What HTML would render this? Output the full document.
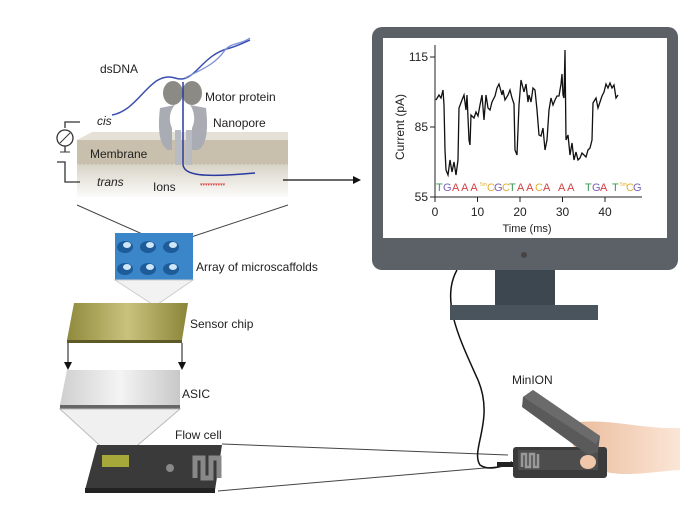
<!DOCTYPE html>
<html><head><meta charset="utf-8"><style>
body{margin:0;background:#fff}
svg{display:block}
text{font-family:"Liberation Sans",sans-serif}
</style></head><body>
<svg width="680" height="505" viewBox="0 0 680 505" xmlns="http://www.w3.org/2000/svg" fill="#222">
<defs>
<linearGradient id="trans" x1="0" y1="0" x2="0" y2="1"><stop offset="0" stop-color="#d9d4c8"/><stop offset="1" stop-color="#fbfbf9"/></linearGradient>
<linearGradient id="chip" x1="0" y1="0" x2="1" y2="0"><stop offset="0" stop-color="#8f8a3c"/><stop offset="0.5" stop-color="#c9c27e"/><stop offset="1" stop-color="#8a8538"/></linearGradient>
<linearGradient id="asic" x1="0" y1="0" x2="1" y2="0"><stop offset="0" stop-color="#cfcfcf"/><stop offset="0.5" stop-color="#f4f4f4"/><stop offset="1" stop-color="#c8c8c8"/></linearGradient>
<linearGradient id="hand" x1="0" y1="0" x2="1" y2="0"><stop offset="0" stop-color="#e9b898"/><stop offset="1" stop-color="#fbe6d6"/></linearGradient>
</defs>

<!-- membrane slab -->
<polygon points="77,140 92,132 288,132 288,140" fill="#e6e1d6"/>
<rect x="77" y="140" width="211" height="25" fill="#c8c0ac"/>
<line x1="77" y1="165" x2="288" y2="165" stroke="#eee" stroke-dasharray="2,2"/>
<rect x="77" y="165" width="211" height="32" fill="url(#trans)"/>
<!-- circuit -->
<path d="M80,122 H65 V128 M65,146 V152 M57,162 H65 V182 H80" stroke="#333" fill="none" stroke-width="1.3"/>
<circle cx="65" cy="138" r="8" fill="#fff" stroke="#333" stroke-width="1.3"/>
<line x1="60" y1="143" x2="70" y2="133" stroke="#333"/>
<line x1="60" y1="152" x2="70" y2="152" stroke="#333"/>
<!-- DNA -->
<path d="M112,115 C140,110 150,70 175,78 C195,85 200,55 230,48 C240,45 245,42 250,40" stroke="#3a4fb0" fill="none" stroke-width="1.5"/>
<path d="M185,78 C200,70 215,65 225,50 C232,42 240,45 250,38" stroke="#7d8fd8" fill="none" stroke-width="1.3"/>
<!-- nanopore -->
<path d="M160,108 C158,125 158,145 168,150 L172,150 L172,128 C168,120 170,110 175,105 Z" fill="#a9acb3"/>
<path d="M206,108 C208,125 208,145 198,150 L192,150 L192,128 C196,120 194,110 190,105 Z" fill="#a9acb3"/>
<rect x="175" y="130" width="6" height="35" fill="#b8bbc2"/>
<rect x="186" y="130" width="6" height="35" fill="#b8bbc2"/>
<ellipse cx="173" cy="93" rx="10" ry="12" fill="#8c8a85"/>
<ellipse cx="192" cy="93" rx="10" ry="12" fill="#8c8a85"/>
<path d="M183,82 V165 C185,175 200,178 255,173" stroke="#2a3aa0" fill="none" stroke-width="1.5"/>
<text x="200" y="186" font-size="5" fill="#d44">▾▾▾▾▾▾▾▾▾▾</text>
<!-- labels -->
<text x="100" y="73" font-size="12">dsDNA</text>
<text x="205" y="101" font-size="12">Motor protein</text>
<text x="97" y="125" font-size="12" font-style="italic">cis</text>
<text x="213" y="127" font-size="12">Nanopore</text>
<text x="90" y="158" font-size="12">Membrane</text>
<text x="97" y="186" font-size="12" font-style="italic">trans</text>
<text x="153" y="191" font-size="12">Ions</text>
<line x1="283" y1="180" x2="356" y2="180" stroke="#111" stroke-width="1.3"/>
<polygon points="361,180 353,176 353,184" fill="#111"/>
<!-- converge lines -->
<line x1="77" y1="205" x2="167" y2="245" stroke="#444"/>
<line x1="288" y1="205" x2="167" y2="245" stroke="#444"/>
<!-- array -->
<rect x="115" y="233" width="78" height="47" fill="#3b86c9"/>
<g fill="#1d5c99"><ellipse cx="125" cy="247" rx="8" ry="6"/><ellipse cx="148" cy="247" rx="8" ry="6"/><ellipse cx="171" cy="247" rx="8" ry="6"/><ellipse cx="125" cy="269" rx="8" ry="6"/><ellipse cx="148" cy="269" rx="8" ry="6"/><ellipse cx="171" cy="269" rx="8" ry="6"/></g>
<g fill="#cfe6f7"><ellipse cx="127" cy="245" rx="4" ry="3"/><ellipse cx="150" cy="245" rx="4" ry="3"/><ellipse cx="173" cy="245" rx="4" ry="3"/><ellipse cx="127" cy="267" rx="4" ry="3"/><ellipse cx="150" cy="267" rx="4" ry="3"/><ellipse cx="173" cy="267" rx="4" ry="3"/></g>
<text x="196" y="271" font-size="12">Array of microscaffolds</text>
<polygon points="115,280 193,280 155,306" fill="#f2f2f2" stroke="#ccc"/>
<!-- sensor chip -->
<polygon points="74,303 188,303 182,340 67,340" fill="url(#chip)"/>
<rect x="67" y="340" width="115" height="3" fill="#5d5a28"/>
<text x="190" y="328" font-size="12">Sensor chip</text>
<line x1="68" y1="343" x2="68" y2="365" stroke="#111"/><polygon points="68,370 64,362 72,362" fill="#111"/>
<line x1="182" y1="343" x2="182" y2="365" stroke="#111"/><polygon points="182,370 178,362 186,362" fill="#111"/>
<!-- ASIC -->
<polygon points="67,370 180,370 180,405 60,405" fill="url(#asic)"/>
<rect x="60" y="405" width="120" height="4" fill="#666"/>
<text x="182" y="398" font-size="12">ASIC</text>
<polygon points="60,409 180,409 118,462" fill="#f0f0f0" stroke="#bbb"/>
<!-- flow cell -->
<text x="175" y="439" font-size="12">Flow cell</text>
<polygon points="97,445 222,445 215,490 85,490" fill="#3a3a3a"/>
<rect x="85" y="488" width="130" height="5" fill="#222"/>
<rect x="102" y="455" width="27" height="12" fill="#a6a83a"/>
<path d="M195,478 V458 h8 v20 h8 v-20 h8 v20" stroke="#888" stroke-width="5" fill="none"/>
<circle cx="170" cy="468" r="4" fill="#888"/>
<line x1="222" y1="444" x2="508" y2="455" stroke="#444"/>
<line x1="218" y1="491" x2="508" y2="466" stroke="#444"/>
<!-- cable -->
<path d="M457,270 C440,300 460,340 478,380 C495,420 470,450 480,465 C490,472 505,465 512,462" stroke="#111" fill="none" stroke-width="1.5"/>
<!-- monitor -->
<rect x="495" y="268" width="60" height="40" fill="#3d4750"/>
<rect x="450" y="305" width="148" height="15" fill="#4a545c"/>
<rect x="372" y="27" width="306" height="243" rx="10" fill="#5c6168"/>
<rect x="383" y="38" width="284" height="200" fill="#fff"/>
<circle cx="524" cy="255" r="3" fill="#444"/>
<!-- plot -->
<line x1="435" y1="45" x2="435" y2="197" stroke="#222"/>
<line x1="435" y1="197" x2="642" y2="197" stroke="#222"/>
<g stroke="#222"><line x1="430" y1="57" x2="435" y2="57"/><line x1="430" y1="127" x2="435" y2="127"/><line x1="430" y1="197" x2="435" y2="197"/>
<line x1="435" y1="197" x2="435" y2="202"/><line x1="477.5" y1="197" x2="477.5" y2="202"/><line x1="520" y1="197" x2="520" y2="202"/><line x1="562.5" y1="197" x2="562.5" y2="202"/><line x1="605" y1="197" x2="605" y2="202"/></g>
<g font-size="12" text-anchor="end"><text x="428" y="61">115</text><text x="428" y="131">85</text><text x="428" y="201">55</text></g>
<g font-size="12" text-anchor="middle"><text x="435" y="216">0</text><text x="477.5" y="216">10</text><text x="520" y="216">20</text><text x="562.5" y="216">30</text><text x="605" y="216">40</text><text x="527" y="232" font-size="11">Time (ms)</text></g>
<text transform="translate(404,127) rotate(-90)" font-size="12" text-anchor="middle">Current (pA)</text>
<polyline fill="none" stroke="#111" stroke-width="1.3" points="436,100 439,95 441,98 443,90 444,105 445,150 446,170 448,175 450,160 452,172 454,162 456,175 458,160 459,108 462,100 464,95 466,110 467,95 469,140 470,145 471,115 474,118 476,112 478,116 480,105 482,95 484,120 486,95 488,108 490,110 492,102 495,96 497,88 499,84 502,95 503,90 505,100 508,95 510,90 512,98 514,104 515,150 517,155 519,105 521,80 524,92 526,84 528,102 529,95 531,102 533,88 535,90 537,110 539,135 541,136 543,128 545,150 547,140 549,110 551,98 553,105 555,100 557,96 559,96 561,84 562,74 563,95 564,98 565,50 566,140 568,135 570,155 572,143 574,160 576,152 578,160 580,158 582,153 584,155 586,157 588,150 590,148 592,140 593,103 596,98 598,108 600,102 602,96 604,92 606,84 608,88 610,83 612,88 614,85 616,98 618,95"/>
<g font-size="11"><text x="436" y="191" fill="#3a9a55">T</text><text x="443" y="191" fill="#7b5fb6">G</text><text x="452" y="191" fill="#d34040">A A A</text><text x="480" y="186" font-size="5" fill="#e0b030">5m</text><text x="487" y="191" fill="#e0b030">C</text><text x="494" y="191" fill="#7b5fb6">G</text><text x="502" y="191" fill="#e0b030">C</text><text x="509" y="191" fill="#3a9a55">T</text><text x="517" y="191" fill="#d34040">A A</text><text x="535" y="191" fill="#e0b030">C</text><text x="543" y="191" fill="#d34040">A</text><text x="558" y="191" fill="#d34040">A A</text><text x="585" y="191" fill="#3a9a55">T</text><text x="592" y="191" fill="#7b5fb6">G</text><text x="600" y="191" fill="#d34040">A</text><text x="612" y="191" fill="#3a9a55">T</text><text x="620" y="186" font-size="5" fill="#e0b030">5m</text><text x="626" y="191" fill="#e0b030">C</text><text x="633" y="191" fill="#7b5fb6">G</text></g>
<!-- MinION -->
<text x="512" y="384" font-size="12">MinION</text>
<path d="M565,425 C600,415 640,430 680,428 L680,470 C650,472 620,478 600,470 L580,462 Z" fill="url(#hand)"/>
<rect x="513" y="447" width="94" height="31" rx="3" fill="#3b3b3b"/>
<rect x="518" y="450" width="80" height="20" fill="#4d4d4d"/>
<path d="M522,467 V454 h4 v13 h4 v-13 h4 v13 h4 v-13" stroke="#999" stroke-width="2.5" fill="none"/>
<rect x="497" y="462" width="16" height="5" fill="#222"/>
<polygon points="523,397 533,390 600,436 598,452 588,455 522,407" fill="#5a5a5a"/>
<polygon points="523,397 533,390 600,436 596,444" fill="#6b6b6b"/>
<ellipse cx="588" cy="462" rx="8" ry="7" fill="#f0c7aa"/>
</svg>
</body></html>
